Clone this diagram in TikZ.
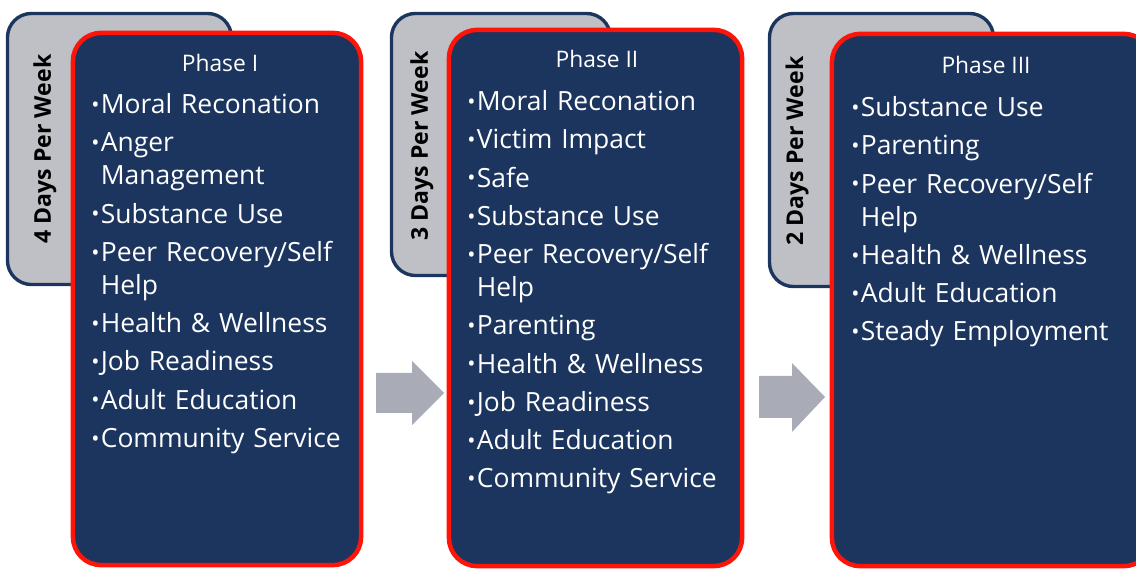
\documentclass[tikz,border=0pt]{standalone}
\usepackage{fontspec}
\setmainfont{Open Sans}
\usetikzlibrary{positioning}

\definecolor{navy}{RGB}{28,53,94}
\definecolor{tabgrey}{RGB}{190,192,197}
\definecolor{arrowgrey}{RGB}{169,172,182}
\definecolor{phasered}{RGB}{255,20,10}

% one bullet point of a phase list
\newcommand{\bitem}[1]{\par\hangindent=6.8pt\hangafter=1\noindent\makebox[6.8pt][l]{\raisebox{0.8pt}{\fontsize{15.5}{15.5}\selectfont\textbullet}}#1}

\tikzset{
  tabcard/.style={draw=navy, line width=2.4pt, fill=tabgrey, rounded corners=0.6cm, inner sep=0pt},
  phasecard/.style={draw=phasered, line width=3.2pt, fill=navy, rounded corners=0.7cm, inner sep=0pt},
  phasetitle/.style={text=white, font=\fontsize{16.2}{19}\selectfont, inner sep=0pt},
  itemlist/.style={anchor=north west, text=white, text width=7cm, inner sep=0pt,
    font=\fontsize{18.8}{23.5}\selectfont},
  dayslabel/.style={rotate=90, font=\bfseries\fontsize{16.4}{19}\selectfont, inner sep=0pt},
  blockarrow/.style={fill=arrowgrey}
}

\begin{document}
\begin{tikzpicture}[x=0.025cm, y=-0.025cm]
	\useasboundingbox (0,0) rectangle (1136,569);
	% Draw tabs behind the phases
	\node[tabcard, minimum width=5.6cm, minimum height=6.775cm] (tabI) at (119.5,149) {};
	\node[tabcard, minimum width=5.475cm, minimum height=6.55cm] (tabII) at (501,144.5) {};
	\node[tabcard, minimum width=5.6cm, minimum height=6.825cm] (tabIII) at (881.5,150) {};
	\node[dayslabel] (daysI) at (45,149) {4 Days Per Week};
	\node[dayslabel] (daysII) at (422,146) {3 Days Per Week};
	\node[dayslabel] (daysIII) at (797,151) {2 Days Per Week};
	% Draw phase cards
	\node[phasecard, minimum width=7.2cm, minimum height=13.3cm] (boxI) at (217,299) {};
	\node[phasecard, minimum width=7.325cm, minimum height=13.4cm] (boxII) at (595.5,298) {};
	\node[phasecard, minimum width=8cm, minimum height=13.3cm] (boxIII) at (992,300) {};
	% Phase titles
	\node[phasetitle] (titleI) at (220,63) {Phase I};
	\node[phasetitle] (titleII) at (597,59) {Phase II};
	\node[phasetitle] (titleIII) at (986,65) {Phase III};
	% Phase lists
	\node[itemlist] (listI) at (91,75) {\setlength{\parskip}{3.7pt}%
		\bitem{Moral Reconation}
		\bitem{Anger\newline Management}
		\bitem{Substance Use}
		\bitem{Peer Recovery/Self\newline Help}
		\bitem{Health \& Wellness}
		\bitem{Job Readiness}
		\bitem{Adult Education}
		\bitem{Community Service}};
	\node[itemlist] (listII) at (467,72) {\setlength{\parskip}{3.7pt}%
		\bitem{Moral Reconation}
		\bitem{Victim Impact}
		\bitem{Safe}
		\bitem{Substance Use}
		\bitem{Peer Recovery/Self\newline Help}
		\bitem{Parenting}
		\bitem{Health \& Wellness}
		\bitem{Job Readiness}
		\bitem{Adult Education}
		\bitem{Community Service}};
	\node[itemlist] (listIII) at (851,78) {\setlength{\parskip}{3.7pt}%
		\bitem{Substance Use}
		\bitem{Parenting}
		\bitem{Peer Recovery/Self\newline Help}
		\bitem{Health \& Wellness}
		\bitem{Adult Education}
		\bitem{Steady Employment}};
	% Draw block arrows between phases
	\fill[blockarrow] (376,373) -- (412,373) -- (412,361) -- (444,393) -- (412,425) -- (412,413) -- (376,413) -- cycle;
	\fill[blockarrow] (759,376) -- (792,376) -- (792,363) -- (825,397) -- (792,432) -- (792,418) -- (759,418) -- cycle;
\end{tikzpicture}
\end{document}
